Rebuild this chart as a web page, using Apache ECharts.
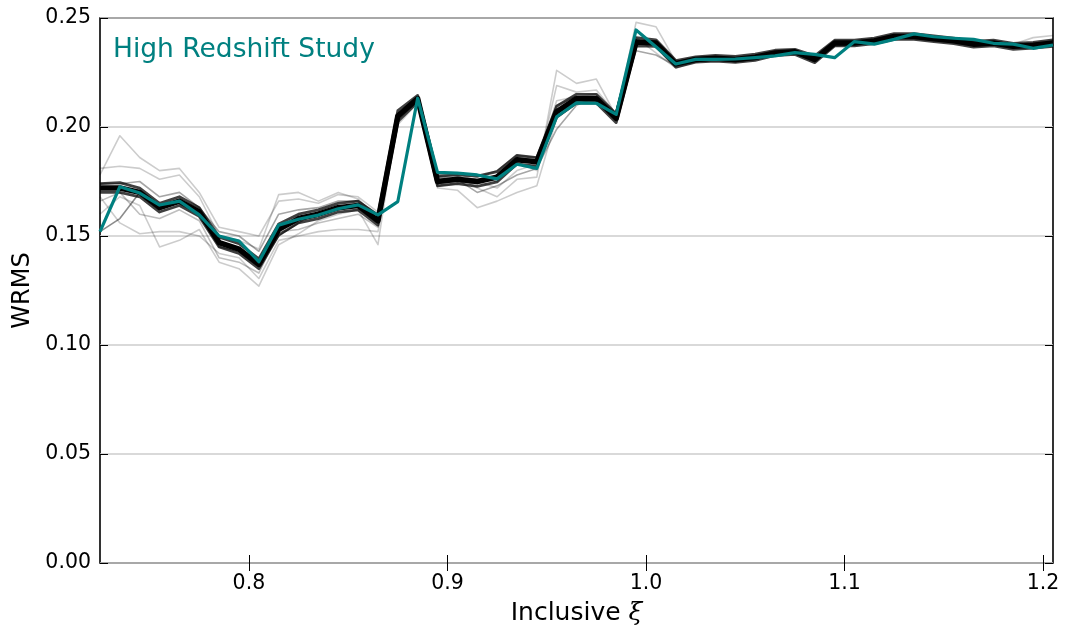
<!DOCTYPE html>
<html>
<head>
<meta charset="utf-8">
<script src="https://cdn.jsdelivr.net/npm/echarts@6/dist/echarts.min.js"></script>
<style>
  html, body { margin: 0; padding: 0; background: #fff; }
  #chart { width: 1068px; height: 631px; }
</style>
</head>
<body>
<div id="chart"></div>
<script>
// Inclusive xi grid (0.725 .. 1.205, step 0.01)
const xi = [0.725,0.735,0.745,0.755,0.765,0.775,0.785,0.795,0.805,0.815,
            0.825,0.835,0.845,0.855,0.865,0.875,0.885,0.895,0.905,0.915,
            0.925,0.935,0.945,0.955,0.965,0.975,0.985,0.995,1.005,1.015,
            1.025,1.035,1.045,1.055,1.065,1.075,1.085,1.095,1.105,1.115,
            1.125,1.135,1.145,1.155,1.165,1.175,1.185,1.195,1.205];

// Nominal WRMS for the high-redshift study
const studyWrms = [0.1520,0.1726,0.1697,0.1642,0.1660,0.1597,0.1500,0.1477,0.1382,0.1550,
                   0.1577,0.1596,0.1625,0.1643,0.1597,0.1658,0.2132,0.1792,0.1788,0.1780,
                   0.1762,0.1829,0.1810,0.2047,0.2111,0.2109,0.2058,0.2445,0.2368,0.2289,
                   0.2310,0.2310,0.2312,0.2318,0.2326,0.2341,0.2333,0.2318,0.2392,0.2380,
                   0.2402,0.2427,0.2414,0.2407,0.2402,0.2384,0.2380,0.2361,0.2376];

// Dense core of the resampled realisations
const coreMid = [0.1720,0.1720,0.1700,0.1630,0.1660,0.1610,0.1470,0.1440,0.1370,0.1530,
                 0.1580,0.1600,0.1630,0.1640,0.1570,0.2050,0.2130,0.1750,0.1760,0.1750,
                 0.1770,0.1850,0.1840,0.2070,0.2130,0.2130,0.2040,0.2390,0.2385,0.2290,
                 0.2310,0.2315,0.2310,0.2320,0.2340,0.2345,0.2310,0.2385,0.2385,0.2395,
                 0.2415,0.2415,0.2405,0.2395,0.2380,0.2385,0.2370,0.2375,0.2385];
const coreHigh = [0.1740,0.1745,0.1720,0.1650,0.1680,0.1630,0.1495,0.1465,0.1395,0.1555,
                  0.1600,0.1620,0.1650,0.1660,0.1595,0.2075,0.2145,0.1775,0.1780,0.1775,
                  0.1795,0.1870,0.1860,0.2095,0.2150,0.2150,0.2060,0.2410,0.2400,0.2305,
                  0.2322,0.2328,0.2324,0.2334,0.2352,0.2356,0.2326,0.2398,0.2398,0.2408,
                  0.2428,0.2428,0.2418,0.2408,0.2393,0.2398,0.2384,0.2388,0.2400];
const coreLow = [0.1700,0.1700,0.1680,0.1610,0.1640,0.1590,0.1450,0.1420,0.1350,0.1505,
                 0.1560,0.1580,0.1610,0.1620,0.1550,0.2025,0.2115,0.1730,0.1740,0.1728,
                 0.1748,0.1830,0.1820,0.2045,0.2110,0.2110,0.2020,0.2372,0.2370,0.2275,
                 0.2298,0.2302,0.2297,0.2306,0.2328,0.2333,0.2295,0.2372,0.2372,0.2382,
                 0.2402,0.2402,0.2392,0.2382,0.2367,0.2372,0.2356,0.2362,0.2370];

// Individual scattered realisations
const draw1 = [0.1780,0.1960,0.1860,0.1800,0.1810,0.1700,0.1540,0.1520,0.1500,0.1660,
               0.1670,0.1650,0.1690,0.1680,0.1610,0.2030,0.2120,0.1770,0.1780,0.1720,
               0.1680,0.1760,0.1770,0.2260,0.2200,0.2220,0.2050,0.2480,0.2460,0.2300,
               0.2310,0.2320,0.2310,0.2320,0.2340,0.2340,0.2310,0.2380,0.2390,0.2390,
               0.2410,0.2410,0.2410,0.2400,0.2390,0.2390,0.2380,0.2410,0.2420];
const draw2 = [0.1810,0.1820,0.1810,0.1760,0.1780,0.1680,0.1500,0.1480,0.1440,0.1690,
               0.1700,0.1660,0.1700,0.1670,0.1580,0.2060,0.2130,0.1760,0.1770,0.1760,
               0.1750,0.1840,0.1800,0.2190,0.2160,0.2170,0.2060,0.2410,0.2340,0.2270,
               0.2300,0.2310,0.2300,0.2310,0.2330,0.2340,0.2320,0.2370,0.2380,0.2390,
               0.2410,0.2420,0.2400,0.2390,0.2380,0.2380,0.2370,0.2370,0.2380];
const draw3 = [0.1680,0.1560,0.1510,0.1520,0.1520,0.1500,0.1420,0.1400,0.1305,0.1480,
               0.1500,0.1520,0.1530,0.1530,0.1520,0.2010,0.2110,0.1720,0.1710,0.1630,
               0.1660,0.1700,0.1730,0.2040,0.2110,0.2120,0.2030,0.2380,0.2380,0.2280,
               0.2300,0.2310,0.2300,0.2310,0.2330,0.2340,0.2300,0.2380,0.2380,0.2390,
               0.2410,0.2410,0.2400,0.2390,0.2370,0.2380,0.2360,0.2370,0.2380];
const draw4 = [0.1600,0.1680,0.1640,0.1450,0.1480,0.1530,0.1380,0.1350,0.1270,0.1460,
               0.1510,0.1570,0.1600,0.1620,0.1460,0.2060,0.2140,0.1780,0.1790,0.1750,
               0.1720,0.1800,0.1830,0.2120,0.2140,0.2150,0.2050,0.2400,0.2390,0.2290,
               0.2310,0.2320,0.2310,0.2320,0.2340,0.2350,0.2310,0.2390,0.2390,0.2400,
               0.2420,0.2420,0.2410,0.2400,0.2380,0.2390,0.2370,0.2380,0.2390];
const draw5 = [0.1520,0.1580,0.1700,0.1640,0.1650,0.1600,0.1450,0.1430,0.1360,0.1500,
               0.1560,0.1610,0.1620,0.1640,0.1580,0.2040,0.2130,0.1740,0.1750,0.1740,
               0.1780,0.1860,0.1850,0.2060,0.2120,0.2120,0.2030,0.2390,0.2380,0.2290,
               0.2310,0.2310,0.2310,0.2320,0.2340,0.2340,0.2310,0.2380,0.2380,0.2390,
               0.2410,0.2410,0.2400,0.2390,0.2380,0.2380,0.2370,0.2370,0.2380];
const draw6 = [0.1740,0.1740,0.1750,0.1680,0.1700,0.1630,0.1520,0.1500,0.1430,0.1600,
               0.1620,0.1630,0.1660,0.1660,0.1600,0.2050,0.2130,0.1770,0.1760,0.1700,
               0.1730,0.1780,0.1810,0.1990,0.2100,0.2140,0.2060,0.2350,0.2330,0.2280,
               0.2300,0.2310,0.2300,0.2310,0.2330,0.2340,0.2300,0.2380,0.2390,0.2390,
               0.2410,0.2410,0.2400,0.2390,0.2380,0.2390,0.2370,0.2380,0.2390];
const draw7 = [0.1660,0.1700,0.1600,0.1580,0.1620,0.1570,0.1400,0.1380,0.1330,0.1520,
               0.1530,0.1560,0.1580,0.1600,0.1540,0.2050,0.2120,0.1730,0.1740,0.1770,
               0.1800,0.1870,0.1860,0.2100,0.2140,0.2130,0.2040,0.2400,0.2390,0.2300,
               0.2310,0.2320,0.2310,0.2320,0.2340,0.2350,0.2320,0.2390,0.2390,0.2400,
               0.2420,0.2420,0.2410,0.2400,0.2390,0.2390,0.2380,0.2380,0.2390];

const xTicks = [0.8, 0.9, 1.0, 1.1, 1.2];

const font = 'DejaVu Sans';
const pairs = ys => xi.map((x, i) => [x, ys[i]]);

function realisation(ys, color, width) {
  return {
    type: 'line', data: pairs(ys), symbol: 'none', silent: true,
    lineStyle: { color: color, width: width, join: 'round' }, z: 2
  };
}

const series = [
  realisation(draw1, 'rgba(0,0,0,0.2)', 1.6),
  realisation(draw2, 'rgba(0,0,0,0.2)', 1.6),
  realisation(draw3, 'rgba(0,0,0,0.2)', 1.6),
  realisation(draw4, 'rgba(0,0,0,0.2)', 1.6),
  realisation(draw5, 'rgba(0,0,0,0.45)', 1.6),
  realisation(draw6, 'rgba(0,0,0,0.35)', 1.6),
  realisation(draw7, 'rgba(0,0,0,0.25)', 1.6),
  realisation(coreHigh, 'rgba(0,0,0,0.75)', 2.8),
  realisation(coreLow, 'rgba(0,0,0,0.75)', 2.8),
  realisation(coreMid, '#000', 5.5),
  {
    type: 'line', name: 'High Redshift Study', data: pairs(studyWrms), symbol: 'none',
    lineStyle: { color: '#008080', width: 3.2, join: 'round' }, z: 5
  }
];

const chart = echarts.init(document.getElementById('chart'), null, { renderer: 'canvas' });
chart.setOption({
  animation: false,
  backgroundColor: '#ffffff',
  grid: {
    left: 100, right: 15, top: 18, bottom: 68, outerBoundsMode: 'none', containLabel: false,
    show: true, borderColor: '#000', borderWidth: 1.6, backgroundColor: 'transparent'
  },
  title: {
    text: 'High Redshift Study', left: 108, top: 32,
    textStyle: { color: '#008080', fontFamily: font, fontSize: 26.5, fontWeight: 'normal' }
  },
  xAxis: [{
    type: 'value', min: 0.725, max: 1.205, position: 'bottom',
    name: '{t|Inclusive }{g|ξ}', nameLocation: 'middle', nameGap: 38,
    nameTextStyle: { rich: {
      t: { fontFamily: font, fontSize: 25, color: '#000' },
      g: { fontFamily: 'DejaVu Serif', fontStyle: 'italic', fontSize: 25, color: '#000' }
    } },
    axisLine: { show: false },
    splitLine: { show: false },
    axisTick: { show: true, inside: true, length: 8, customValues: xTicks, lineStyle: { color: '#000', width: 1 } },
    axisLabel: { customValues: xTicks, margin: 10, fontFamily: font, fontSize: 20.5, color: '#000', formatter: v => v.toFixed(1) }
  }, {
    type: 'value', min: 0.725, max: 1.205, position: 'top',
    axisLine: { show: false }, splitLine: { show: false },
    axisTick: { show: true, inside: true, length: 8, customValues: xTicks, lineStyle: { color: '#000', width: 1 } },
    axisLabel: { show: false }
  }],
  yAxis: [{
    type: 'value', min: 0, max: 0.25, interval: 0.05, position: 'left',
    name: 'WRMS', nameLocation: 'middle', nameGap: 63, nameRotate: 90,
    nameTextStyle: { fontFamily: font, fontSize: 24, color: '#000' },
    axisLine: { show: false },
    splitLine: { show: true, lineStyle: { color: '#cccccc', width: 1.6 } },
    axisTick: { show: true, inside: true, length: 8, lineStyle: { color: '#000', width: 1 } },
    axisLabel: { margin: 9, fontFamily: font, fontSize: 20.5, color: '#000', formatter: v => v.toFixed(2) }
  }, {
    type: 'value', min: 0, max: 0.25, interval: 0.05, position: 'right',
    axisLine: { show: false }, splitLine: { show: false },
    axisTick: { show: true, inside: true, length: 8, lineStyle: { color: '#000', width: 1 } },
    axisLabel: { show: false }
  }],
  series: series
});
</script>
</body>
</html>
